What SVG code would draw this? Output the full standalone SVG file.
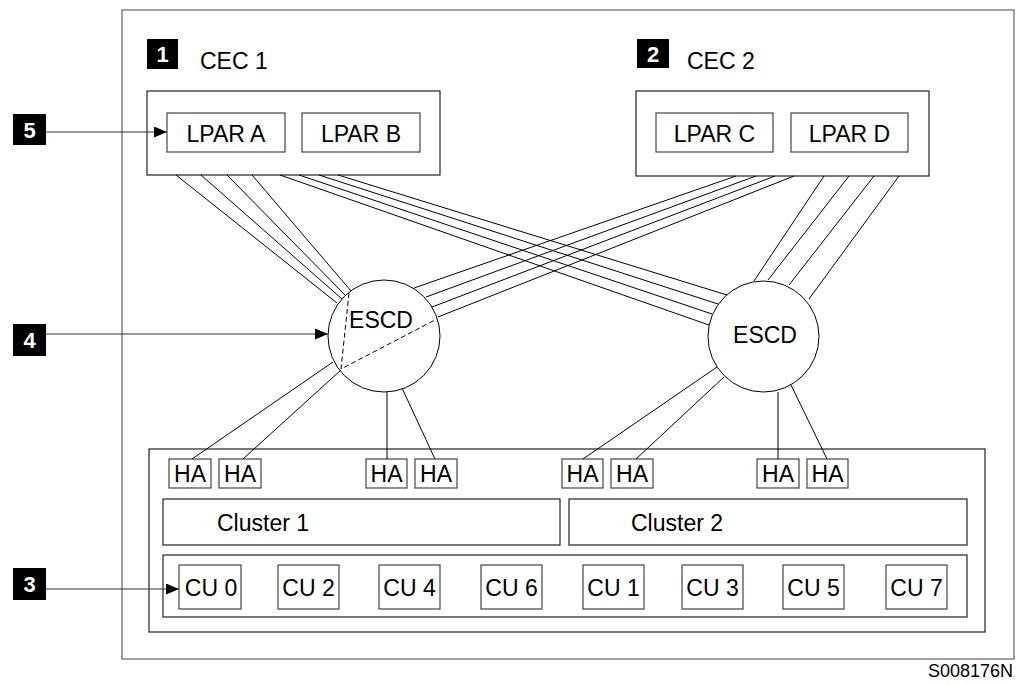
<svg xmlns="http://www.w3.org/2000/svg" width="1020" height="685" viewBox="0 0 1020 685">
<defs>
<marker id="arr" viewBox="0 0 13 11" refX="13" refY="5.5" markerWidth="13" markerHeight="11" markerUnits="userSpaceOnUse" orient="auto">
<path d="M0,0 L13,5.5 L0,11 Z" fill="#000"/>
</marker>
<style>
text{font-family:"Liberation Sans",Arial,sans-serif;fill:#000}
.t{font-size:23px}
.box{fill:#fff;stroke:#222;stroke-width:1.2}
.ibox{fill:#fff;stroke:#444;stroke-width:1.2}
.frame{fill:none;stroke:#808080;stroke-width:1.5}
.badge{fill:#000}
.bt{font-size:22px;font-weight:bold;fill:#fff;text-anchor:middle}
.c{stroke:#000;stroke-width:1;fill:none}
.ptr{stroke:#333;stroke-width:1.2;fill:none}
.dash{stroke:#000;stroke-width:1;fill:none;stroke-dasharray:5,3}
.mid{text-anchor:middle}
</style>
</defs>
<rect width="1020" height="685" fill="#fff"/>
<rect class="frame" x="122" y="10" width="892" height="649"/>

<g id="badge1"><rect class="badge" x="147" y="39" width="31" height="30"/><text class="bt" x="162.5" y="62">1</text></g>
<g id="cec1label"><text class="t" x="200" y="69">CEC 1</text></g>
<g id="badge2"><rect class="badge" x="637" y="39" width="32" height="29"/><text class="bt" x="653" y="62">2</text></g>
<g id="cec2label"><text class="t" x="687" y="69">CEC 2</text></g>
<g id="badge5"><rect class="badge" x="13" y="114" width="33" height="31"/><text class="bt" x="29.5" y="137.5">5</text></g>
<g id="badge4"><rect class="badge" x="13" y="324" width="33" height="32"/><text class="bt" x="29.5" y="348">4</text></g>
<g id="badge3"><rect class="badge" x="13" y="568" width="33" height="32"/><text class="bt" x="29.5" y="592">3</text></g>

<g id="cec1">
<rect class="box" x="147" y="91" width="293" height="84"/>
</g>
<g id="lparA"><rect class="ibox" x="167" y="113" width="118" height="39"/><text class="t mid" x="226" y="142">LPAR A</text></g>
<g id="lparB"><rect class="ibox" x="302" y="113" width="118" height="39"/><text class="t mid" x="361" y="142">LPAR B</text></g>

<g id="cec2">
<rect class="box" x="636" y="91" width="293" height="85"/>
</g>
<g id="lparC"><rect class="ibox" x="656" y="113" width="117" height="39"/><text class="t mid" x="714.5" y="142">LPAR C</text></g>
<g id="lparD"><rect class="ibox" x="791" y="113" width="117" height="39"/><text class="t mid" x="849.5" y="142">LPAR D</text></g>

<g id="escd1">
<circle class="c" cx="384" cy="336" r="56" fill="#fff"/>
<polyline class="dash" points="349,293 341,369 435,320"/>
<text class="t mid" x="381" y="328">ESCD</text>
</g>
<g id="escd2">
<circle class="c" cx="763.5" cy="336.5" r="55.5" fill="#fff"/>
<text class="t mid" x="765" y="343">ESCD</text>
</g>

<g id="storage">
<rect class="box" x="149" y="449" width="836" height="183" fill="none"/>
</g>
<g id="ha1"><rect class="ibox" x="169" y="459" width="42" height="29"/><text class="t mid" x="190" y="482">HA</text></g>
<g id="ha2"><rect class="ibox" x="219" y="459" width="42" height="29"/><text class="t mid" x="240" y="482">HA</text></g>
<g id="ha3"><rect class="ibox" x="366" y="459" width="41" height="29"/><text class="t mid" x="386.5" y="482">HA</text></g>
<g id="ha4"><rect class="ibox" x="415" y="459" width="42" height="29"/><text class="t mid" x="436" y="482">HA</text></g>
<g id="ha5"><rect class="ibox" x="562" y="459" width="41" height="29"/><text class="t mid" x="582.5" y="482">HA</text></g>
<g id="ha6"><rect class="ibox" x="611" y="459" width="42" height="29"/><text class="t mid" x="632" y="482">HA</text></g>
<g id="ha7"><rect class="ibox" x="757" y="459" width="42" height="29"/><text class="t mid" x="778" y="482">HA</text></g>
<g id="ha8"><rect class="ibox" x="807" y="459" width="41" height="29"/><text class="t mid" x="827.5" y="482">HA</text></g>

<g id="cluster1"><rect class="box" x="163" y="499" width="397" height="46"/><text class="t" x="217" y="531">Cluster 1</text></g>
<g id="cluster2"><rect class="box" x="569" y="499" width="398" height="46"/><text class="t" x="631" y="531">Cluster 2</text></g>

<g id="curow"><rect class="box" x="163" y="555" width="804" height="62"/></g>
<g id="cu0"><rect class="ibox" x="179" y="565" width="62" height="44"/><text class="t mid" x="211" y="596">CU 0</text></g>
<g id="cu2"><rect class="ibox" x="278" y="565" width="61" height="44"/><text class="t mid" x="308.5" y="596">CU 2</text></g>
<g id="cu4"><rect class="ibox" x="379" y="565" width="61" height="44"/><text class="t mid" x="409.5" y="596">CU 4</text></g>
<g id="cu6"><rect class="ibox" x="481" y="565" width="61" height="44"/><text class="t mid" x="511.5" y="596">CU 6</text></g>
<g id="cu1"><rect class="ibox" x="583" y="565" width="61" height="44"/><text class="t mid" x="613.5" y="596">CU 1</text></g>
<g id="cu3"><rect class="ibox" x="682" y="565" width="61" height="44"/><text class="t mid" x="712.5" y="596">CU 3</text></g>
<g id="cu5"><rect class="ibox" x="783" y="565" width="61" height="44"/><text class="t mid" x="813.5" y="596">CU 5</text></g>
<g id="cu7"><rect class="ibox" x="886" y="565" width="61" height="44"/><text class="t mid" x="916.5" y="596">CU 7</text></g>

<g id="connectors">
<!-- CEC1 to left ESCD -->
<line class="c" x1="176" y1="175" x2="337" y2="303"/>
<line class="c" x1="201" y1="175" x2="342" y2="299"/>
<line class="c" x1="227" y1="175" x2="345" y2="295"/>
<line class="c" x1="252" y1="175" x2="351" y2="291"/>
<!-- CEC1 to right ESCD -->
<line class="c" x1="280" y1="175" x2="709" y2="325"/>
<line class="c" x1="299" y1="175" x2="712" y2="314"/>
<line class="c" x1="319" y1="175" x2="718" y2="304"/>
<line class="c" x1="338" y1="175" x2="727" y2="295"/>
<!-- CEC2 to left ESCD -->
<line class="c" x1="736" y1="176" x2="414" y2="288"/>
<line class="c" x1="756" y1="176" x2="426" y2="297"/>
<line class="c" x1="775" y1="176" x2="432" y2="307"/>
<line class="c" x1="794" y1="176" x2="438" y2="317"/>
<!-- CEC2 to right ESCD -->
<line class="c" x1="824" y1="176" x2="754" y2="281"/>
<line class="c" x1="849" y1="176" x2="768" y2="280"/>
<line class="c" x1="874" y1="176" x2="789" y2="285"/>
<line class="c" x1="899" y1="176" x2="809" y2="299"/>
<!-- left ESCD to HAs -->
<line class="c" x1="333" y1="362" x2="192" y2="459"/>
<line class="c" x1="341" y1="370" x2="243" y2="459"/>
<line class="c" x1="387" y1="392" x2="387" y2="459"/>
<line class="c" x1="402" y1="388" x2="435" y2="459"/>
<!-- right ESCD to HAs -->
<line class="c" x1="717" y1="367" x2="583" y2="459"/>
<line class="c" x1="724" y1="377" x2="636" y2="459"/>
<line class="c" x1="778" y1="392" x2="778" y2="459"/>
<line class="c" x1="791" y1="385" x2="827" y2="459"/>
<!-- pointer arrows -->
<line class="ptr" x1="46" y1="132" x2="167" y2="132" marker-end="url(#arr)"/>
<line class="ptr" x1="46" y1="334" x2="328" y2="334" marker-end="url(#arr)"/>
<line class="ptr" x1="46" y1="589" x2="179" y2="589" marker-end="url(#arr)"/>
</g>

<text x="1013" y="677" style="font-size:18px;text-anchor:end">S008176N</text>
</svg>
